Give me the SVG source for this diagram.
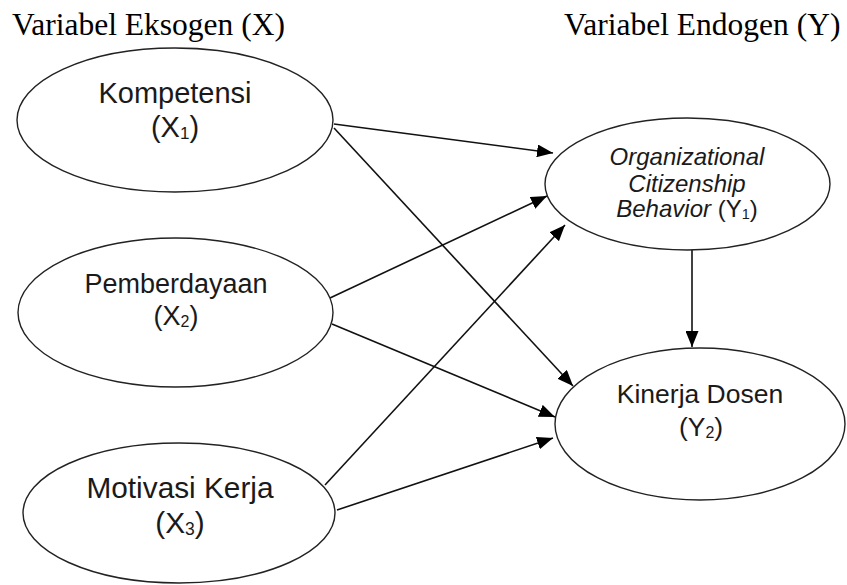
<svg xmlns="http://www.w3.org/2000/svg" width="847" height="585" viewBox="0 0 847 585">
<style>
.node ellipse{fill:#fff;stroke:#222;stroke-width:1.4}
.lbl{font-family:"Liberation Sans",Arial,sans-serif;fill:#1a1a1a;text-anchor:middle}
.hdr{font-family:"Liberation Serif","Times New Roman",serif;font-size:31.5px;fill:#000}
.edge line{stroke:#111;stroke-width:1.6;marker-end:url(#ah)}
</style>
<defs>
<marker id="ah" markerUnits="userSpaceOnUse" markerWidth="17" markerHeight="13" refX="16" refY="6.5" orient="auto">
<path d="M0,0 L16,6.5 L0,13 Z" fill="#000"/>
</marker>
</defs>
<rect width="847" height="585" fill="#fff"/>
<text class="hdr" x="12" y="35">Variabel Eksogen (X)</text>
<text class="hdr" x="564" y="35">Variabel Endogen (Y)</text>
<g class="edge" id="connectors">
<line x1="334" y1="124" x2="553" y2="153"/>
<line x1="334" y1="128" x2="573" y2="386"/>
<line x1="330" y1="298" x2="547" y2="196"/>
<line x1="332" y1="324" x2="555" y2="417"/>
<line x1="325" y1="485" x2="565" y2="225"/>
<line x1="337" y1="510" x2="553" y2="438"/>
<line x1="692" y1="250" x2="692" y2="347"/>
</g>
<g class="node" id="x1">
<ellipse cx="175" cy="120" rx="158" ry="72"/>
<text class="lbl" x="175" y="103" font-size="29">Kompetensi</text>
<text class="lbl" x="175" y="137" font-size="29">(X<tspan font-size="17" dy="2">1</tspan><tspan dy="-2">)</tspan></text>
</g>
<g class="node" id="x2">
<ellipse cx="175.5" cy="312.5" rx="157.5" ry="74.5"/>
<text class="lbl" x="176" y="293" font-size="27">Pemberdayaan</text>
<text class="lbl" x="176" y="325" font-size="27">(X<tspan font-size="16" dy="2">2</tspan><tspan dy="-2">)</tspan></text>
</g>
<g class="node" id="x3">
<ellipse cx="179" cy="513" rx="156" ry="70"/>
<text class="lbl" x="180" y="498" font-size="29.8">Motivasi Kerja</text>
<text class="lbl" x="180" y="533" font-size="29.8">(X<tspan font-size="17.5" dy="2">3</tspan><tspan dy="-2">)</tspan></text>
</g>
<g class="node" id="y1">
<ellipse cx="687.5" cy="184" rx="142.5" ry="66"/>
<text class="lbl" x="687" y="165" font-size="24" font-style="italic">Organizational</text>
<text class="lbl" x="687" y="192" font-size="24" font-style="italic">Citizenship</text>
<text class="lbl" x="687" y="217" font-size="24"><tspan font-style="italic">Behavior</tspan> (Y<tspan font-size="14.5" dy="2">1</tspan><tspan dy="-2">)</tspan></text>
</g>
<g class="node" id="y2">
<ellipse cx="700" cy="424" rx="145" ry="76"/>
<text class="lbl" x="700" y="403" font-size="26.5">Kinerja Dosen</text>
<text class="lbl" x="701" y="436" font-size="26.5">(Y<tspan font-size="16" dy="2">2</tspan><tspan dy="-2">)</tspan></text>
</g>
</svg>
